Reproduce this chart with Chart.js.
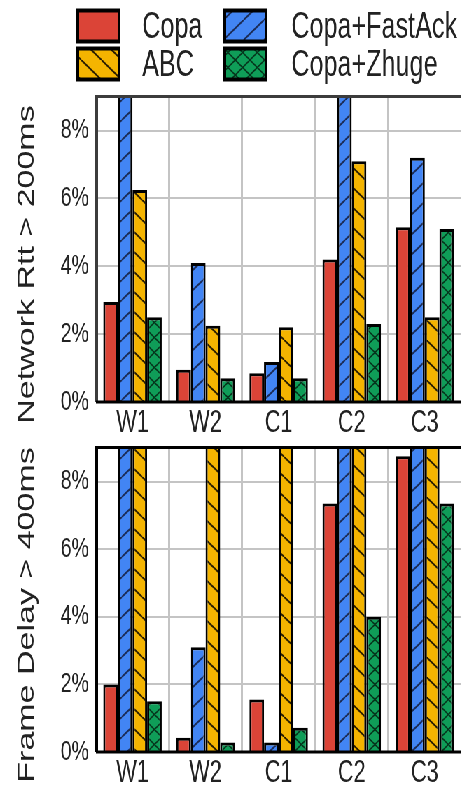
<!DOCTYPE html>
<html>
<head>
<meta charset="utf-8">
<script src="https://cdn.jsdelivr.net/npm/chart.js@4.4.1/dist/chart.umd.min.js"></script>
<style>
html, body { margin: 0; padding: 0; background: #fff; overflow: hidden; }
/* the figure is drawn wide and squeezed, the original looks condensed */
#wrap { width: 659px; transform: scaleX(0.7); transform-origin: 0 0; }
canvas { display: block; }
</style>
</head>
<body>
<div id="wrap">
  <canvas id="rttChart" width="659" height="437"></canvas>
  <canvas id="delayChart" width="659" height="356"></canvas>
</div>
<script>
// categories and series
var categories = ['W1', 'W2', 'C1', 'C2', 'C3'];
var seriesNames = ['Copa', 'Copa+FastAck', 'ABC', 'Copa+Zhuge'];

// Network Rtt > 200ms (%) - bars that run off the top are set to 10
var rttCopa    = [2.95, 0.95, 0.85, 4.2, 5.15];
var rttFastAck = [10, 4.1, 1.18, 10, 7.2];
var rttABC     = [6.25, 2.25, 2.2, 7.1, 2.5];
var rttZhuge   = [2.5, 0.7, 0.7, 2.3, 5.1];

// Frame Delay > 400ms (%)
var delayCopa    = [2.0, 0.42, 1.55, 7.35, 8.75];
var delayFastAck = [10, 3.1, 0.28, 10, 10];
var delayABC     = [10, 10, 10, 10, 10];
var delayZhuge   = [1.5, 0.28, 0.72, 4.0, 7.35];

// y axis
var yTickValues = [0, 2, 4, 6, 8];
var yMax = 9.05;

Chart.defaults.font.family = "'Liberation Sans', Arial, sans-serif";
Chart.defaults.color = '#222';

// build a hatched fill
function makePattern(bg, lineColor, kind, w, h, lw) {
    var c = document.createElement('canvas');
    c.width = w;
    c.height = h;
    var g = c.getContext('2d');
    g.fillStyle = bg;
    g.fillRect(0, 0, w, h);
    g.strokeStyle = lineColor;
    g.lineWidth = lw;
    g.beginPath();
    for (var k = -1; k <= 1; k++) {
        if (kind === 'slash' || kind === 'cross') {
            g.moveTo(k * w, h);
            g.lineTo(k * w + w, 0);
        }
        if (kind === 'back' || kind === 'cross') {
            g.moveTo(k * w, 0);
            g.lineTo(k * w + w, h);
        }
    }
    g.stroke();
    return g.createPattern(c, 'repeat');
}

var fills = [
    '#DB4437',
    makePattern('#4285F4', '#1b2b55', 'slash', 29, 20, 2),
    makePattern('#F4B400', '#2a1e00', 'back', 29, 20, 2),
    makePattern('#0F9D58', '#06331c', 'cross', 21, 15, 1.6)
];

// legend in two columns above the top chart
var boxLegend = {
    id: 'boxLegend',
    afterDraw: function (chart) {
        var ctx = chart.ctx;
        var cols = [[0, 2], [1, 3]];
        var colX = [109, 319];
        var textX = [203, 416];
        var rowY = [9, 47];
        ctx.save();
        ctx.font = "36px 'Liberation Sans', Arial, sans-serif";
        ctx.textBaseline = 'middle';
        for (var c = 0; c < 2; c++) {
            for (var r = 0; r < 2; r++) {
                var idx = cols[c][r];
                ctx.fillStyle = fills[idx];
                ctx.fillRect(colX[c], rowY[r], 63, 34);
                ctx.strokeStyle = '#000';
                ctx.lineWidth = 4;
                ctx.strokeRect(colX[c] + 2, rowY[r] + 1.5, 59, 31);
                ctx.fillStyle = '#222';
                ctx.fillText(seriesNames[idx], textX[c], rowY[r] + 19);
            }
        }
        ctx.restore();
    }
};

// rotated y title, sits a little below the middle of the plot
var sideTitle = {
    id: 'sideTitle',
    afterDraw: function (chart, args, opts) {
        var a = chart.chartArea;
        var ctx = chart.ctx;
        ctx.save();
        ctx.translate(39, (a.top + a.bottom) / 2 + 16);
        ctx.rotate(-Math.PI / 2);
        ctx.font = "34px 'Liberation Sans', Arial, sans-serif";
        ctx.fillStyle = '#222';
        ctx.textAlign = 'center';
        ctx.textBaseline = 'middle';
        ctx.fillText(opts.text, 0, 0);
        ctx.restore();
    }
};

// frame around the plot area
function framePlugin(topColor) {
    return {
        id: 'frame',
        afterDatasetsDraw: function (chart) {
            var a = chart.chartArea;
            var ctx = chart.ctx;
            ctx.save();
            ctx.strokeStyle = topColor;
            ctx.lineWidth = 3;
            ctx.beginPath();
            ctx.moveTo(a.left, a.top + 1.5);
            ctx.lineTo(a.right, a.top + 1.5);
            ctx.stroke();
            ctx.lineWidth = 4;
            ctx.beginPath();
            ctx.moveTo(a.left + 1, a.top);
            ctx.lineTo(a.left + 1, a.bottom);
            ctx.stroke();
            ctx.strokeStyle = '#000';
            ctx.lineWidth = 3;
            ctx.beginPath();
            ctx.moveTo(a.left, a.bottom);
            ctx.lineTo(a.right, a.bottom);
            ctx.stroke();
            ctx.restore();
        }
    };
}

function buildDatasets(lists) {
    return lists.map(function (vals, i) {
        return {
            label: seriesNames[i],
            data: vals,
            backgroundColor: fills[i],
            borderColor: '#000',
            borderWidth: 3,
            categoryPercentage: 0.8,
            barPercentage: 1.0,
            clip: 0
        };
    });
}

function makeChart(id, lists, title, padTop, xHeight, topColor, extra) {
    var plugins = [framePlugin(topColor), sideTitle];
    if (extra) plugins.push(extra);
    return new Chart(document.getElementById(id), {
        type: 'bar',
        data: { labels: categories, datasets: buildDatasets(lists) },
        options: {
            responsive: false,
            animation: false,
            layout: { padding: { top: padTop, left: 0, right: 0, bottom: 0 } },
            plugins: {
                legend: { display: false },
                tooltip: { enabled: false },
                sideTitle: { text: title }
            },
            scales: {
                x: {
                    grid: { color: '#c4c4c4', lineWidth: 3, offset: true, drawTicks: false },
                    border: { display: false },
                    ticks: { font: { size: 31 }, padding: 3, color: '#222' },
                    afterFit: function (s) {
                        s.height = xHeight;
                        s.paddingLeft = 0;
                        s.paddingRight = 0;
                    }
                },
                y: {
                    min: 0,
                    max: yMax,
                    grid: { color: '#c4c4c4', lineWidth: 2, drawTicks: false },
                    border: { display: false },
                    afterBuildTicks: function (s) {
                        s.ticks = yTickValues.map(function (v) { return { value: v }; });
                    },
                    ticks: {
                        font: { size: 28 },
                        padding: 10,
                        color: '#222',
                        callback: function (v) { return v + '%'; }
                    },
                    afterFit: function (s) {
                        s.width = 137;
                        s.paddingTop = 0;
                        s.paddingBottom = 0;
                    }
                }
            }
        },
        plugins: plugins
    });
}

makeChart('rttChart', [rttCopa, rttFastAck, rttABC, rttZhuge],
    'Network Rtt > 200ms', 95, 35, '#3c3c3c', boxLegend);
makeChart('delayChart', [delayCopa, delayFastAck, delayABC, delayZhuge],
    'Frame Delay > 400ms', 9, 41, '#000', null);
</script>
</body>
</html>
